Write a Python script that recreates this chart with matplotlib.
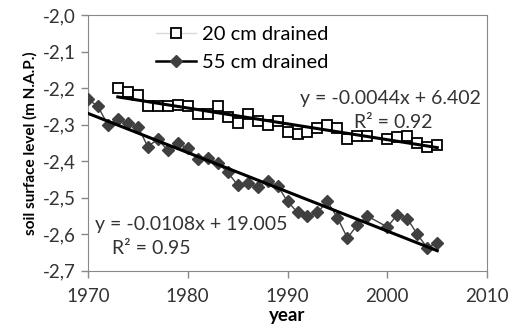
import matplotlib.pyplot as plt
import numpy as np

plt.rcParams['font.family'] = ['Lato', 'DejaVu Sans']

# 20 cm drained (1999 missing)
years_20 = np.array([1973, 1974, 1975, 1976, 1977, 1978, 1979, 1980, 1981, 1982,
                     1983, 1984, 1985, 1986, 1987, 1988, 1989, 1990, 1991, 1992,
                     1993, 1994, 1995, 1996, 1997, 1998, 2000, 2001, 2002, 2003,
                     2004, 2005])
level_20 = np.array([-2.20, -2.21, -2.22, -2.25, -2.25, -2.25, -2.245, -2.25, -2.27, -2.27,
                     -2.25, -2.28, -2.295, -2.27, -2.29, -2.30, -2.29, -2.32, -2.325, -2.32,
                     -2.31, -2.30, -2.31, -2.34, -2.33, -2.33, -2.34, -2.335, -2.33, -2.35,
                     -2.36, -2.355])

# 55 cm drained (1999 missing)
years_55 = np.array([1970, 1971, 1972, 1973, 1974, 1975, 1976, 1977, 1978, 1979,
                     1980, 1981, 1982, 1983, 1984, 1985, 1986, 1987, 1988, 1989,
                     1990, 1991, 1992, 1993, 1994, 1995, 1996, 1997, 1998, 2000,
                     2001, 2002, 2003, 2004, 2005])
level_55 = np.array([-2.23, -2.25, -2.30, -2.285, -2.295, -2.305, -2.36, -2.34, -2.37, -2.35,
                     -2.365, -2.395, -2.39, -2.405, -2.43, -2.465, -2.46, -2.47, -2.455, -2.467,
                     -2.51, -2.54, -2.55, -2.54, -2.51, -2.555, -2.61, -2.574, -2.55, -2.58,
                     -2.546, -2.557, -2.60, -2.637, -2.623])

yticks = [-2.0, -2.1, -2.2, -2.3, -2.4, -2.5, -2.6, -2.7]
xticks = [1970, 1980, 1990, 2000, 2010]

fig = plt.figure(figsize=(5.08, 3.34), dpi=100)
ax = fig.add_axes([0.173, 0.189, 0.786, 0.766])

ax.plot(years_20, level_20, color='#d9d9d9', lw=1, marker='s', ms=6.5,
        mfc='white', mec='black', mew=1.3, label='20 cm drained', zorder=3)
ax.plot(years_55, level_55, color='#404040', lw=1, marker='D', ms=6.5,
        mfc='#404040', mec='#404040', label='55 cm drained', zorder=3)

# linear trend lines
for yrs, lev in [(years_20, level_20), (years_55, level_55)]:
    p = np.polyfit(yrs, lev, 1)
    xs = np.array([yrs[0], yrs[-1]])
    ax.plot(xs, np.polyval(p, xs), color='black', lw=2.2, zorder=4)

ax.set_xlim(1970, 2010)
ax.set_ylim(-2.7, -2.0)
ax.set_xticks(xticks)
ax.set_yticks(yticks)
ax.set_yticklabels([f'{v:.1f}'.replace('.', ',') for v in yticks])
ax.tick_params(labelsize=13.5, colors='#333333', length=5, width=1, color='#888888')
ax.tick_params(axis='x', pad=7)
for s in ax.spines.values():
    s.set_color('#888888')

ax.set_xlabel('year', fontsize=13.5, fontweight='bold', labelpad=2)
ax.set_ylabel('soil surface level (m N.A.P.)', fontsize=11, fontweight='bold', labelpad=4)

leg = ax.legend(loc='upper left', bbox_to_anchor=(0.125, 1.03), frameon=False,
                fontsize=14.5, handlelength=2.0, handletextpad=0.3, labelspacing=0.55)
leg.get_lines()[1].set_color('black')
leg.get_lines()[1].set_linewidth(1.8)

ax.text(2009.4, -2.228, 'y = -0.0044x + 6.402', fontsize=14, color='#333333',
        ha='right', va='center')
ax.text(2000.6, -2.295, 'R² = 0.92', fontsize=14, color='#333333',
        ha='center', va='center')
ax.text(1970.7, -2.573, 'y = -0.0108x + 19.005', fontsize=14, color='#333333',
        ha='left', va='center')
ax.text(1976.4, -2.64, 'R² = 0.95', fontsize=14, color='#333333',
        ha='center', va='center')

fig.savefig('out.png', dpi=100)
